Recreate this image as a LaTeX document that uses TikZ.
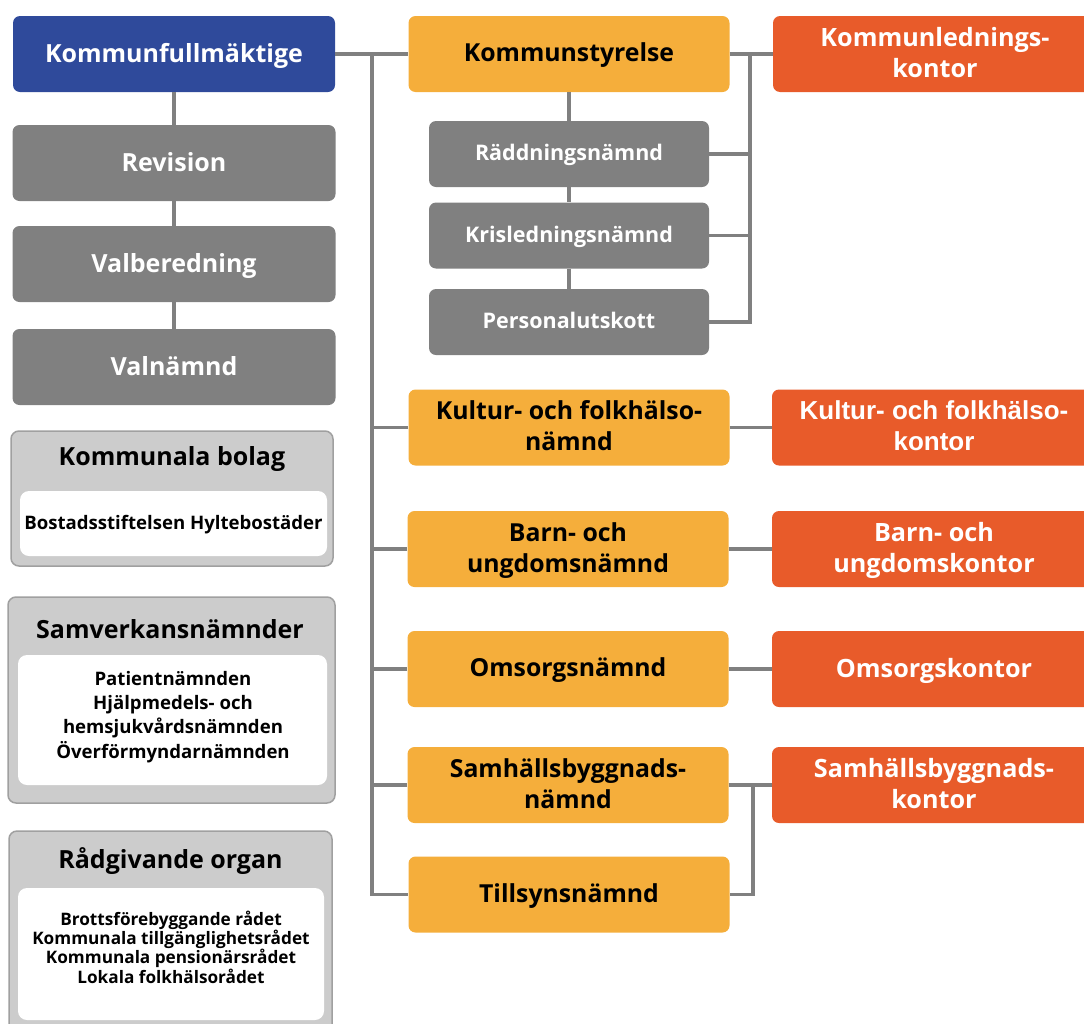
\documentclass[tikz,border=0pt]{standalone}
\usepackage{fontspec}
\setmainfont{Open Sans}
\newfontfamily\arialfont{Liberation Sans}
\usepackage{xcolor}
\usepackage{tikz}

\definecolor{kfblue}{RGB}{47,74,155}
\definecolor{boxgray}{RGB}{128,128,128}
\definecolor{nmdorange}{RGB}{245,174,59}
\definecolor{kontred}{RGB}{232,91,42}
\definecolor{grpfill}{RGB}{204,204,204}
\definecolor{grpline}{RGB}{160,160,160}

\begin{document}
\begin{tikzpicture}[x=1pt,y=-1pt,
	box/.style={rectangle, rounded corners=7pt, align=center, inner sep=0pt, text depth=3pt, font=\bfseries\fontsize{25}{31}\selectfont},
	kf/.style={box, fill=kfblue, text=white, minimum width=322pt, minimum height=76pt},
	grey/.style={box, fill=boxgray, text=white, minimum width=323pt, minimum height=76pt},
	small/.style={box, fill=boxgray, text=white, minimum width=280pt, minimum height=66pt, font=\bfseries\fontsize{21.5}{26}\selectfont},
	nmd/.style={box, fill=nmdorange, text=black, minimum width=321pt, minimum height=76pt, font=\bfseries\fontsize{24.8}{31}\selectfont},
	kontor/.style={box, fill=kontred, text=white, minimum width=324pt, minimum height=76pt, font=\bfseries\fontsize{25.2}{31}\selectfont},
	grp/.style={rectangle, rounded corners=8pt, fill=grpfill, draw=grpline, line width=1.5pt},
	grptitle/.style={font=\bfseries\fontsize{25}{28}\selectfont, inner sep=0pt},
	inbox/.style={rectangle, rounded corners=9pt, fill=white, inner sep=0pt},
	intext/.style={align=center, inner sep=0pt, font=\bfseries\fontsize{18.6}{24.3}\selectfont},
	line/.style={draw=boxgray, line width=3.5pt}
]

\useasboundingbox (0,0) rectangle (1084,1023);
\clip (0,0) rectangle (1084,1023);

% left column
\node[kf] (kf) at (174,54) {Kommunfullmäktige};
\node[grey] (revision) at (174,163) {Revision};
\node[grey] (valber) at (174,264) {Valberedning};
\node[grey] (valnmd) at (174,367) {Valnämnd};

\node[grp, minimum width=322pt, minimum height=135pt] (bolag) at (172,498.5) {};
\node[grptitle] (bolagtitle) at (172,459) {Kommunala bolag};
\node[inbox, minimum width=307pt, minimum height=65pt] (bolaginner) at (173.5,523.5) {};
\node[intext] (bolagtext) at (173.5,524.5) {Bostadsstiftelsen Hyltebostäder};

\node[grp, minimum width=327pt, minimum height=206pt] (samverk) at (171.5,700) {};
\node[grptitle] (samverktitle) at (170,629) {Samverkansnämnder};
\node[inbox, minimum width=309pt, minimum height=130pt] (samverkinner) at (172.5,720) {};
\node[intext] (samverktext) at (173,717) {Patientnämnden\\Hjälpmedels- och\\hemsjukvårdsnämnden\\Överförmyndarnämnden};

\node[grp, minimum width=323pt, minimum height=240pt] (radg) at (170.5,951) {};
\node[grptitle] (radgtitle) at (170.5,861) {Rådgivande organ};
\node[inbox, minimum width=306pt, minimum height=132pt] (radginner) at (171,954) {};
\node[intext, font=\bfseries\fontsize{17.2}{19.3}\selectfont] (radgtext) at (171,947) {Brottsförebyggande rådet\\Kommunala tillgänglighetsrådet\\Kommunala pensionärsrådet\\Lokala folkhälsorådet};

% middle column
\node[nmd] (ks) at (569,54) {Kommunstyrelse};
\node[small] (radd) at (569,154) {Räddningsnämnd};
\node[small] (kris) at (569,235.5) {Krisledningsnämnd};
\node[small] (personal) at (569,322) {Personalutskott};
\node[nmd] (kultur) at (569,427.5) {Kultur- och folkhälso-\\nämnd};
\node[nmd] (barn) at (568,549) {Barn- och\\ungdomsnämnd};
\node[nmd] (omsorg) at (568,669) {Omsorgsnämnd};
\node[nmd] (samhall) at (568,785) {Samhällsbyggnads-\\nämnd};
\node[nmd] (tillsyn) at (569,894.5) {Tillsynsnämnd};

% right column
\node[kontor] (klk) at (935,54) {Kommunlednings-\\kontor};
\node[kontor, font=\arialfont\bfseries\fontsize{26}{31}\selectfont] (kulturk) at (934,427.5) {Kultur- och folkhälso-\\kontor};
\node[kontor] (barnk) at (934,549) {Barn- och\\ungdomskontor};
\node[kontor] (omsorgk) at (934,669) {Omsorgskontor};
\node[kontor] (samhallk) at (934,785) {Samhällsbyggnads-\\kontor};

% connectors
\coordinate (spine) at (372,54);
\coordinate (ksbr) at (750,54);
\coordinate (sbbr) at (753,785);

\draw[line] (kf.south) -- (revision.north);
\draw[line] (revision.south) -- (valber.north);
\draw[line] (valber.south) -- (valnmd.north);

\draw[line] (kf.east) -- (ks.west);
\draw[line] (spine) |- (tillsyn.west);
\foreach \n in {kultur,barn,omsorg,samhall}{
	\draw[line] (\n.west) -- (\n.west -| spine);
}

\draw[line] (ks.south) -- (radd.north);
\draw[line] (radd.south) -- (kris.north);
\draw[line] (kris.south) -- (personal.north);

\draw[line] (ks.east) -- (klk.west);
\draw[line] (ksbr) |- (personal.east);
\draw[line] (radd.east) -- (radd.east -| ksbr);
\draw[line] (kris.east) -- (kris.east -| ksbr);

\draw[line] (kultur.east) -- (kulturk.west);
\draw[line] (barn.east) -- (barnk.west);
\draw[line] (omsorg.east) -- (omsorgk.west);
\draw[line] (samhall.east) -- (samhallk.west);
\draw[line] (sbbr) |- (tillsyn.east);

\end{tikzpicture}
\end{document}
